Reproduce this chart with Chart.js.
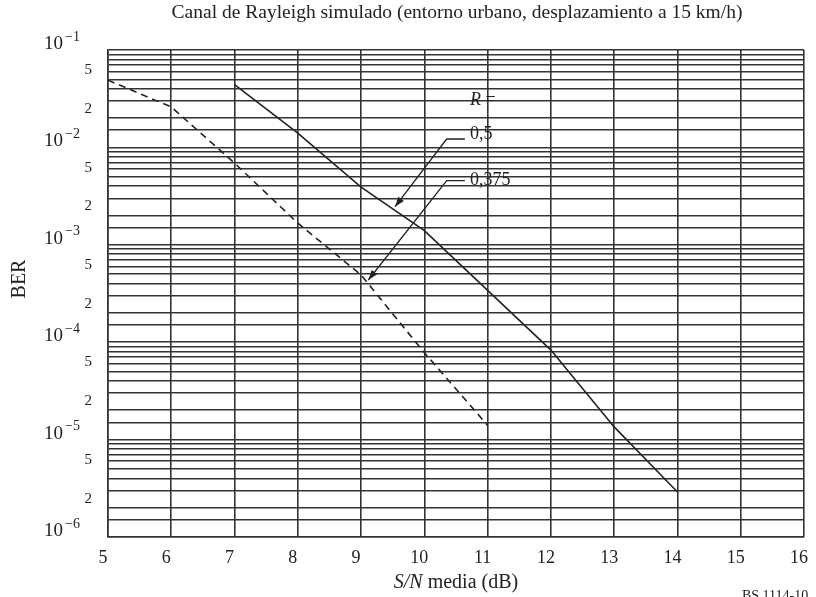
<!DOCTYPE html>
<html>
<head>
<meta charset="utf-8">
<script src="https://cdn.jsdelivr.net/npm/chart.js@4/dist/chart.umd.min.js"></script>
<style>
  body { margin: 0; background: #fff; }
  #wrap { width: 816px; height: 597px; }
</style>
</head>
<body>
<div id="wrap"><canvas id="berChart" width="816" height="597"></canvas></div>
<script>
// R = 0,5 (solid)
const snrSolid = [7, 8, 9, 10, 11, 12, 13, 14];
const berSolid = [4.4e-2, 1.4e-2, 3.9e-3, 1.4e-3, 3.4e-4, 8.3e-5, 1.35e-5, 2.9e-6];
// R = 0,375 (dashed)
const snrDashed = [5, 6, 7, 8, 9, 10, 11];
const berDashed = [4.9e-2, 2.6e-2, 6.9e-3, 1.67e-3, 4.9e-4, 7.8e-5, 1.4e-5];

const xTicks = [5, 6, 7, 8, 9, 10, 11, 12, 13, 14, 15, 16];
const decades = [-6, -5, -4, -3, -2, -1];
const mantissas = [1, 1.5, 2, 3, 4, 5, 6, 7, 8, 9];
const labelledMantissas = [2, 5];

// annotation anchors, in data units
const rLabel = { x: 10.72, y: 3.07e-2 };
const callouts = [
  { text: "0,5", y: 1.37e-2, leaderY: 1.22e-2, tipX: 9.536, tipY: 2.46e-3 },
  { text: "0,375", y: 4.6e-3, leaderY: 4.55e-3, tipX: 9.114, tipY: 4.35e-4 },
];
const leaderStart = 10.353;
const leaderEnd = 10.64;

const ink = "#222";
const gridInk = "#333";
const serif = "'Liberation Serif', 'DejaVu Serif', serif";

const yTickValues = [];
decades.forEach((d) => {
  mantissas.forEach((m) => {
    if (d === -1 && m > 1) return;
    yTickValues.push(m * Math.pow(10, d));
  });
});

const textPlugin = {
  id: "textPlugin",
  afterDraw(chart) {
    const ctx = chart.ctx;
    const xs = chart.scales.x;
    const ys = chart.scales.y;
    const area = chart.chartArea;
    ctx.save();
    ctx.fillStyle = ink;
    ctx.strokeStyle = ink;

    // title
    ctx.font = "19.5px " + serif;
    ctx.textAlign = "center";
    ctx.textBaseline = "middle";
    ctx.fillText("Canal de Rayleigh simulado (entorno urbano, desplazamiento a 15 km/h)", 457, 13);

    // y tick labels
    decades.forEach((d) => {
      const py = ys.getPixelForValue(Math.pow(10, d));
      ctx.textAlign = "right";
      ctx.font = "19px " + serif;
      ctx.fillText("10", area.left - 45, py - 6);
      ctx.textAlign = "left";
      ctx.font = "14px " + serif;
      ctx.fillText("\u2212" + Math.abs(d), area.left - 43, py - 13);
      if (d === -1) return;
      labelledMantissas.forEach((m) => {
        const pm = ys.getPixelForValue(m * Math.pow(10, d));
        ctx.textAlign = "right";
        ctx.font = "15px " + serif;
        ctx.fillText(String(m), area.left - 16, pm - 9);
      });
    });

    // y axis title
    ctx.save();
    ctx.translate(20, 279);
    ctx.rotate(-Math.PI / 2);
    ctx.font = "20px " + serif;
    ctx.textAlign = "center";
    ctx.fillText("BER", 0, 0);
    ctx.restore();

    // x axis title with italic S/N
    ctx.textAlign = "left";
    ctx.font = "italic 20px " + serif;
    const part1 = "S/N";
    const part2 = " media (dB)";
    const w1 = ctx.measureText(part1).width;
    ctx.font = "20px " + serif;
    const w2 = ctx.measureText(part2).width;
    const sx = (area.left + area.right) / 2 - (w1 + w2) / 2;
    ctx.font = "italic 20px " + serif;
    ctx.fillText(part1, sx, 583);
    ctx.font = "20px " + serif;
    ctx.fillText(part2, sx + w1, 583);

    // figure id
    ctx.font = "14px " + serif;
    ctx.textBaseline = "top";
    ctx.fillText("BS 1114-10", 742, 589);

    // R =
    ctx.textBaseline = "middle";
    const rx = xs.getPixelForValue(rLabel.x);
    const ry = ys.getPixelForValue(rLabel.y);
    ctx.font = "italic 18px " + serif;
    ctx.fillText("R", rx, ry);
    const wr = ctx.measureText("R ").width;
    ctx.font = "18px " + serif;
    ctx.fillText("=", rx + wr, ry);

    // callouts with arrows
    ctx.lineWidth = 1.3;
    callouts.forEach((c) => {
      ctx.font = "18px " + serif;
      ctx.fillText(c.text, xs.getPixelForValue(rLabel.x), ys.getPixelForValue(c.y));
      const x0 = xs.getPixelForValue(leaderEnd);
      const x1 = xs.getPixelForValue(leaderStart);
      const ly = ys.getPixelForValue(c.leaderY);
      const tx = xs.getPixelForValue(c.tipX);
      const ty = ys.getPixelForValue(c.tipY);
      ctx.beginPath();
      ctx.moveTo(x0, ly);
      ctx.lineTo(x1, ly);
      ctx.lineTo(tx, ty);
      ctx.stroke();
      const ang = Math.atan2(ty - ly, tx - x1);
      const len = 10, half = 3.5;
      ctx.beginPath();
      ctx.moveTo(tx, ty);
      ctx.lineTo(tx - len * Math.cos(ang) + half * Math.sin(ang), ty - len * Math.sin(ang) - half * Math.cos(ang));
      ctx.lineTo(tx - len * Math.cos(ang) - half * Math.sin(ang), ty - len * Math.sin(ang) + half * Math.cos(ang));
      ctx.closePath();
      ctx.fill();
    });
    ctx.restore();
  },
};

new Chart(document.getElementById("berChart"), {
  type: "line",
  data: {
    datasets: [
      {
        label: "R = 0,5",
        data: snrSolid.map((x, i) => ({ x: x, y: berSolid[i] })),
        borderColor: ink,
        borderWidth: 1.6,
        pointRadius: 0,
        tension: 0,
      },
      {
        label: "R = 0,375",
        data: snrDashed.map((x, i) => ({ x: x, y: berDashed[i] })),
        borderColor: ink,
        borderWidth: 1.6,
        borderDash: [7, 5],
        pointRadius: 0,
        tension: 0,
      },
    ],
  },
  options: {
    responsive: false,
    animation: false,
    layout: { padding: { top: 50, right: 12, left: 0, bottom: 0 } },
    plugins: {
      legend: { display: false },
      tooltip: { enabled: false },
    },
    scales: {
      x: {
        type: "linear",
        min: 5,
        max: 16,
        afterBuildTicks: (scale) => {
          scale.ticks = xTicks.map((v) => ({ value: v }));
        },
        afterFit: (scale) => {
          scale.height = 60;
          scale.paddingLeft = 0;
          scale.paddingRight = 0;
        },
        grid: { color: gridInk, lineWidth: 1.6, drawTicks: false },
        border: { color: gridInk, width: 1.6 },
        ticks: {
          color: ink,
          padding: 10,
          labelOffset: -5,
          font: { family: serif, size: 18 },
        },
      },
      y: {
        type: "logarithmic",
        min: 1e-6,
        max: 1e-1,
        afterBuildTicks: (scale) => {
          scale.ticks = yTickValues.map((v) => ({ value: v }));
        },
        afterFit: (scale) => {
          scale.width = 108;
        },
        grid: { color: gridInk, lineWidth: 1.6, drawTicks: false },
        border: { color: gridInk, width: 1.6 },
        ticks: { display: false },
      },
    },
  },
  plugins: [textPlugin],
});
</script>
</body>
</html>
